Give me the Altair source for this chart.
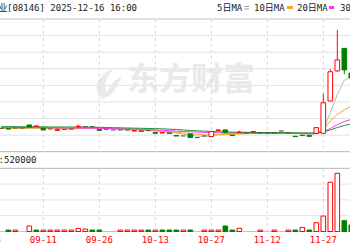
import altair as alt
import pandas as pd

# ---------------- data ----------------
opens  = [0.141, 0.139, 0.143, 0.143, 0.161, 0.153, 0.141, 0.137, 0.129, 0.135,
          0.137, 0.151, 0.151, 0.151, 0.133, 0.135, 0.131, 0.131, 0.131, 0.125,
          0.123, 0.127, 0.115, 0.113, 0.113, 0.097, 0.095, 0.107, 0.085, 0.095,
          0.091, 0.129, 0.131, 0.099, 0.115, 0.113, 0.119, 0.113, 0.113, 0.113,
          0.125, 0.113, 0.093, 0.099, 0.097, 0.111, 0.111, 0.306, 0.487, 0.623,
          0.474]
highs  = [0.143, 0.139, 0.143, 0.143, 0.163, 0.155, 0.141, 0.137, 0.141, 0.135,
          0.137, 0.163, 0.151, 0.151, 0.133, 0.135, 0.131, 0.131, 0.131, 0.127,
          0.125, 0.127, 0.115, 0.115, 0.113, 0.097, 0.095, 0.107, 0.085, 0.095,
          0.121, 0.131, 0.133, 0.099, 0.127, 0.113, 0.121, 0.113, 0.113, 0.113,
          0.127, 0.113, 0.093, 0.099, 0.097, 0.147, 0.348, 0.497, 0.734, 0.623,
          0.480]
lows   = [0.139, 0.137, 0.143, 0.143, 0.149, 0.153, 0.131, 0.137, 0.127, 0.135,
          0.137, 0.147, 0.151, 0.151, 0.129, 0.135, 0.131, 0.131, 0.131, 0.125,
          0.123, 0.127, 0.111, 0.113, 0.111, 0.095, 0.095, 0.085, 0.085, 0.095,
          0.091, 0.129, 0.117, 0.097, 0.115, 0.113, 0.119, 0.113, 0.113, 0.113,
          0.123, 0.113, 0.091, 0.097, 0.093, 0.109, 0.107, 0.306, 0.482, 0.467,
          0.440]
closes = [0.141, 0.137, 0.143, 0.143, 0.149, 0.155, 0.131, 0.137, 0.133, 0.135,
          0.137, 0.153, 0.151, 0.151, 0.129, 0.135, 0.131, 0.131, 0.131, 0.127,
          0.125, 0.127, 0.111, 0.115, 0.111, 0.095, 0.095, 0.085, 0.085, 0.095,
          0.121, 0.131, 0.117, 0.097, 0.117, 0.113, 0.121, 0.113, 0.113, 0.113,
          0.125, 0.113, 0.091, 0.097, 0.093, 0.145, 0.295, 0.482, 0.553, 0.493,
          0.444]

ma5  = [0.142, 0.141, 0.141, 0.142, 0.143, 0.145, 0.142, 0.141, 0.139, 0.138,
        0.135, 0.139, 0.142, 0.145, 0.144, 0.144, 0.139, 0.135, 0.131, 0.131,
        0.129, 0.128, 0.124, 0.121, 0.118, 0.112, 0.105, 0.100, 0.094, 0.091,
        0.096, 0.103, 0.110, 0.112, 0.117, 0.115, 0.113, 0.112, 0.115, 0.115,
        0.117, 0.115, 0.111, 0.108, 0.104, 0.108, 0.131, 0.235, 0.345, 0.430,
        0.455]
ma10 = [0.141, 0.141, 0.141, 0.141, 0.142, 0.142, 0.141, 0.141, 0.141, 0.140,
        0.140, 0.140, 0.141, 0.141, 0.139, 0.139, 0.139, 0.138, 0.138, 0.136,
        0.133, 0.131, 0.127, 0.124, 0.122, 0.118, 0.114, 0.110, 0.105, 0.101,
        0.101, 0.102, 0.103, 0.104, 0.107, 0.109, 0.111, 0.112, 0.114, 0.114,
        0.114, 0.113, 0.111, 0.111, 0.110, 0.111, 0.135, 0.185, 0.225, 0.252,
        0.276]
ma20 = [0.146, 0.146, 0.146, 0.146, 0.146, 0.145, 0.145, 0.145, 0.144, 0.144,
        0.143, 0.143, 0.142, 0.142, 0.141, 0.140, 0.139, 0.138, 0.137, 0.136,
        0.135, 0.133, 0.131, 0.129, 0.127, 0.124, 0.122, 0.120, 0.118, 0.116,
        0.115, 0.114, 0.113, 0.112, 0.112, 0.111, 0.111, 0.110, 0.110, 0.110,
        0.110, 0.110, 0.109, 0.109, 0.109, 0.109, 0.121, 0.140, 0.163, 0.182,
        0.195]
ma30 = [0.151, 0.151, 0.151, 0.150, 0.150, 0.150, 0.150, 0.149, 0.149, 0.149,
        0.149, 0.148, 0.148, 0.148, 0.147, 0.146, 0.145, 0.144, 0.143, 0.142,
        0.141, 0.140, 0.139, 0.138, 0.136, 0.134, 0.131, 0.128, 0.126, 0.124,
        0.122, 0.120, 0.119, 0.118, 0.117, 0.117, 0.116, 0.116, 0.115, 0.115,
        0.115, 0.114, 0.114, 0.114, 0.113, 0.113, 0.119, 0.131, 0.146, 0.158,
        0.168]

volumes = [0, 12000, 12000, 0, 45000, 12000, 12000, 12000, 12000, 12000,
           12000, 26000, 20000, 12000, 12000, 0, 0, 12000, 12000, 12000,
           12000, 12000, 12000, 12000, 12000, 12000, 12000, 12000, 0, 12000,
           12000, 12000, 45000, 12000, 26000, 0, 0, 12000, 0, 12000,
           0, 12000, 12000, 34000, 12000, 72000, 127000, 405000, 479000, 89000,
           53000]
vol_color = ["", "g", "r", "", "r", "g", "r", "r", "r", "r",
             "r", "r", "r", "g", "g", "", "", "r", "r", "r",
             "r", "g", "r", "g", "g", "g", "r", "g", "", "r",
             "r", "r", "g", "g", "r", "", "", "r", "", "r",
             "", "r", "g", "r", "g", "r", "r", "r", "r", "g",
             "g"]

tick_slots  = [-2, 6, 14, 22, 30, 38, 46]
tick_labels = ["08-28", "09-11", "09-26", "10-13", "10-27", "11-12", "11-27"]

price_grid = [0.1, 0.2, 0.3, 0.4, 0.5, 0.6, 0.7]
price_border = [0.0, 0.8]
vol_grid = [130000, 260000, 390000]
vol_border = [0, 520000]

ma_names  = ["5日MA", "10日MA", "20日MA", "30日MA"]
ma_colors = ["#b9b9b9", "#f5a623", "#ff33ff", "#1f8f3a"]

# ---------------- frames ----------------
n = len(closes)
df = pd.DataFrame({"i": range(n), "o": opens, "h": highs, "l": lows, "c": closes,
                   "v": volumes, "vc": vol_color})
df["dir"] = ["up" if c > o else ("down" if c < o else "flat") for o, c in zip(df.o, df.c)]
df["xl"] = df["i"] - 0.33
df["xr"] = df["i"] + 0.33

ma_df = pd.concat([pd.DataFrame({"i": range(n), "v": vals, "ma": name})
                   for name, vals in zip(ma_names, [ma5, ma10, ma20, ma30])])

xs = alt.Scale(domain=[0, 50], range=[1.3, 351.3], nice=False, zero=False)
ps = alt.Scale(domain=[0, 0.8], range=[151.7, 19], nice=False, zero=False)
vs = alt.Scale(domain=[0, 520000], range=[231.5, 168.3], nice=False, zero=False)

def X(f):
    return alt.X(f, scale=xs, axis=None)

def PY(f):
    return alt.Y(f, scale=ps, axis=None)

def VY(f):
    return alt.Y(f, scale=vs, axis=None)

FONT = "DejaVu Sans Mono, Noto Sans CJK SC"
layers = []

# grid lines
layers.append(alt.Chart(pd.DataFrame({"p": price_grid})).mark_rule(color="#e2e2e2", strokeWidth=1)
              .encode(y=PY("p:Q"), x=alt.value(0), x2=alt.value(350)))
layers.append(alt.Chart(pd.DataFrame({"p": price_border})).mark_rule(color="#c4c4c4", strokeWidth=1.2)
              .encode(y=PY("p:Q"), x=alt.value(0), x2=alt.value(350)))
layers.append(alt.Chart(pd.DataFrame({"v": vol_grid})).mark_rule(color="#e2e2e2", strokeWidth=1)
              .encode(y=VY("v:Q"), x=alt.value(0), x2=alt.value(350)))
layers.append(alt.Chart(pd.DataFrame({"v": vol_border})).mark_rule(color="#c4c4c4", strokeWidth=1.2)
              .encode(y=VY("v:Q"), x=alt.value(0), x2=alt.value(350)))

# watermark
layers.append(alt.Chart(pd.DataFrame({"t": ["东方财富"]})).mark_text(
    font="Noto Sans CJK SC", fontSize=32, fontWeight="bold", color="#e9e9e9",
    align="left", baseline="middle").encode(text="t:N", x=alt.value(127), y=alt.value(80)))
leaf = ("M-0.3,1 C-1,0.4 -0.6,-0.5 0.5,-1 C0,-0.5 -0.3,0.1 0,0.6 "
        "C0.2,0.1 0.5,-0.2 0.9,-0.4 C0.7,0.3 0.3,0.8 -0.3,1 Z")
layers.append(alt.Chart(pd.DataFrame({"t": ["logo"]})).mark_point(
    shape=leaf, filled=True, color="#e9e9e9", opacity=1, size=1000, strokeWidth=0)
    .encode(x=alt.value(107), y=alt.value(83)))

# vertical dashed lines
vl = pd.DataFrame({"i": tick_slots[1:]})
layers.append(alt.Chart(vl).mark_rule(color="#d6d6d6", strokeDash=[3, 3], strokeWidth=1)
              .encode(x=X("i:Q"), y=alt.value(19.5), y2=alt.value(151)))
layers.append(alt.Chart(vl).mark_rule(color="#d6d6d6", strokeDash=[3, 3], strokeWidth=1)
              .encode(x=X("i:Q"), y=alt.value(169), y2=alt.value(231)))

# moving averages
layers.append(alt.Chart(ma_df).mark_line(strokeWidth=1).encode(
    x=X("i:Q"), y=PY("v:Q"),
    color=alt.Color("ma:N", scale=alt.Scale(domain=ma_names, range=ma_colors), legend=None),
    order="i:Q"))

# candles
wick_col = {"up": "#ff0000", "down": "#008000", "flat": "#4a4a4a"}
for d, col in wick_col.items():
    sub = df[df["dir"] == d]
    layers.append(alt.Chart(sub).mark_rule(color=col, strokeWidth=1)
                  .encode(x=X("i:Q"), y=PY("l:Q"), y2="h:Q"))
layers.append(alt.Chart(df[df["dir"] == "up"]).mark_bar(fill="white", stroke="#ff0000", strokeWidth=1)
              .encode(x=X("xl:Q"), x2="xr:Q", y=PY("o:Q"), y2="c:Q"))
layers.append(alt.Chart(df[df["dir"] == "down"]).mark_bar(fill="#008000", stroke="#008000", strokeWidth=1)
              .encode(x=X("xl:Q"), x2="xr:Q", y=PY("o:Q"), y2="c:Q"))
layers.append(alt.Chart(df[df["dir"] == "flat"]).mark_rule(color="#4a4a4a", strokeWidth=1)
              .encode(x=X("xl:Q"), x2="xr:Q", y=PY("c:Q")))

# volume
vdf = df[df["v"] > 0].copy()
vdf["zero"] = 0
layers.append(alt.Chart(vdf[vdf["vc"] == "r"]).mark_bar(fill="white", stroke="#ff0000", strokeWidth=1)
              .encode(x=X("xl:Q"), x2="xr:Q", y=VY("zero:Q"), y2="v:Q"))
layers.append(alt.Chart(vdf[vdf["vc"] == "g"]).mark_bar(fill="#008000", stroke="#008000", strokeWidth=1)
              .encode(x=X("xl:Q"), x2="xr:Q", y=VY("zero:Q"), y2="v:Q"))

# header texts
def label(txt, x, y, align="left", color="#222222", size=9):
    return alt.Chart(pd.DataFrame({"t": [txt]})).mark_text(
        font=FONT, fontSize=size, color=color, align=align, baseline="middle"
    ).encode(text="t:N", x=alt.value(x), y=alt.value(y))

layers.append(label("格菲酒业", 7.5, 8, align="right"))
layers.append(label("[08146] 2025-12-16 16:00", 7, 8))
legend_x = [217, 254, 297, 340]
for name, lx in zip(ma_names, legend_x):
    layers.append(label(name, lx, 8))
# legend samples
layers.append(alt.Chart(pd.DataFrame({"y": [6.5, 9.0]})).mark_rule(color="#9a9a9a", strokeWidth=1)
              .encode(x=alt.value(244.5), x2=alt.value(249), y=alt.value(6.5)))
layers.append(alt.Chart(pd.DataFrame({"y": [9.0]})).mark_rule(color="#9a9a9a", strokeWidth=1)
              .encode(x=alt.value(244.5), x2=alt.value(249), y=alt.value(9.0)))
sample_x = [(287, 293), (329, 334)]
for (a, b), col in zip(sample_x, ma_colors[1:3]):
    layers.append(alt.Chart(pd.DataFrame({"t": [col]})).mark_rule(color=col, strokeWidth=3)
                  .encode(x=alt.value(a), x2=alt.value(b), y=alt.value(7.5)))

layers.append(label("成交量:520000", 36.5, 160, align="right"))

# date labels
layers.append(alt.Chart(pd.DataFrame({"i": tick_slots, "t": tick_labels})).mark_text(
    font=FONT, fontSize=9, color="#ff0000", align="center", baseline="middle"
).encode(x=X("i:Q"), y=alt.value(240), text="t:N"))

chart = (alt.layer(*layers)
         .resolve_scale(y="independent")
         .properties(width=350, height=250, padding=0,
                     autosize=alt.AutoSizeParams(type="none"), background="white")
         .configure_view(stroke=None))

chart.save("out.html", embed_options={"renderer": "svg", "actions": False})
